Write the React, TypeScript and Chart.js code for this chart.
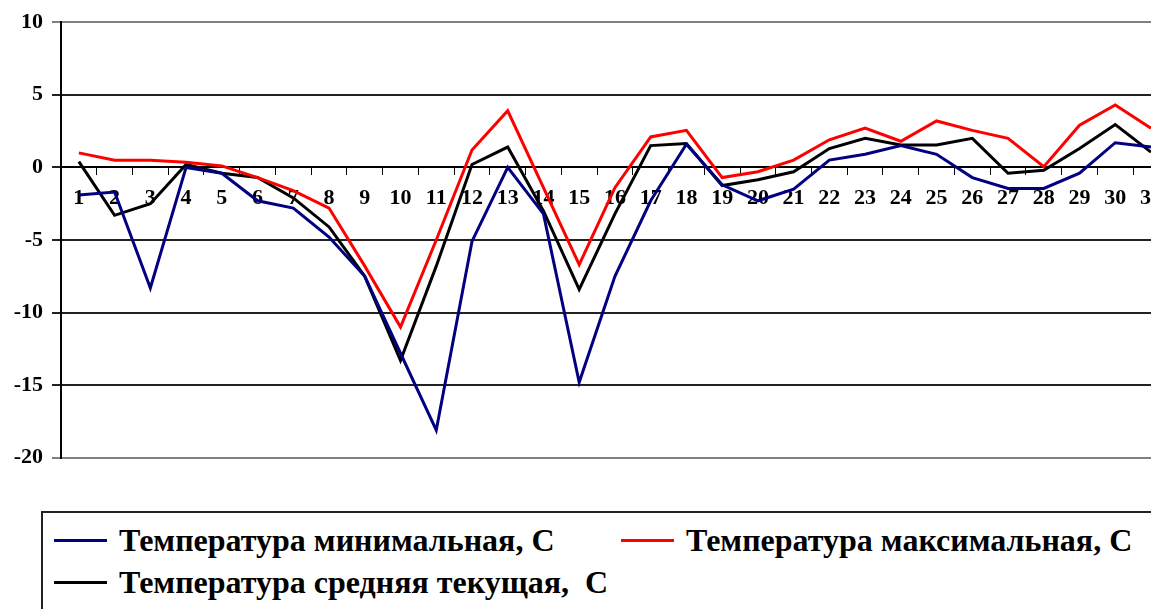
import React, { useEffect, useRef } from "react";
import { Chart, registerables } from "chart.js";

Chart.register(...registerables);

const days: string[] = Array.from({ length: 31 }, (_, i) => String(i + 1));

const tempMin: number[] = [
  -1.9, -1.7, -8.3, 0.0, -0.4, -2.3, -2.8, -4.8, -7.5, -12.8,
  -18.1, -5.1, 0.0, -3.2, -14.8, -7.5, -2.3, 1.6, -1.2, -2.3,
  -1.5, 0.5, 0.9, 1.5, 0.9, -0.7, -1.45, -1.45, -0.4, 1.7, 1.4,
];

const tempMax: number[] = [
  1.0, 0.5, 0.5, 0.35, 0.1, -0.7, -1.6, -2.8, -6.8, -11.0,
  -5.0, 1.2, 3.9, -1.4, -6.7, -1.4, 2.1, 2.55, -0.7, -0.3,
  0.5, 1.9, 2.7, 1.8, 3.2, 2.55, 2.0, 0.05, 2.9, 4.3, 2.7,
];

const tempAvg: number[] = [
  0.4, -3.3, -2.5, 0.2, -0.4, -0.7, -2.1, -4.1, -7.5, -13.3,
  -6.8, 0.2, 1.4, -3.0, -8.4, -3.2, 1.5, 1.65, -1.25, -0.85,
  -0.3, 1.3, 2.0, 1.55, 1.55, 2.0, -0.4, -0.2, 1.3, 2.95, 1.05,
];

const seriesLabels: string[] = [
  "Температура минимальная, С",
  "Температура максимальная, С",
  "Температура средняя текущая,  С",
];
const seriesColors: string[] = ["#000080", "#ff0000", "#000000"];

const yMin = -20;
const yMax = 10;
const yStep = 5;

const FONT = "'Liberation Serif', 'Times New Roman', serif";

export default function App() {
  const canvasRef = useRef<HTMLCanvasElement | null>(null);

  useEffect(() => {
    if (!canvasRef.current) return;
    const chart = new Chart(canvasRef.current, {
      type: "line",
      data: {
        labels: days,
        datasets: [tempMin, tempMax, tempAvg].map((d, i) => ({
          label: seriesLabels[i],
          data: d,
          borderColor: seriesColors[i],
          backgroundColor: seriesColors[i],
          borderWidth: 3,
          pointRadius: 0,
          tension: 0,
          fill: false,
        })),
      },
      options: {
        responsive: false,
        animation: false,
        layout: { padding: { top: 18, bottom: 20, left: 0, right: 0 } },
        plugins: {
          legend: { display: false },
          tooltip: { enabled: false },
        },
        scales: {
          x: {
            position: { y: 0 } as any,
            offset: true,
            grid: {
              offset: true,
              drawOnChartArea: false,
              drawTicks: true,
              tickLength: 7,
              color: "#000",
              lineWidth: 1,
            },
            border: { display: true, color: "#000", width: 2 },
            ticks: {
              color: "#000",
              padding: 11,
              autoSkip: false,
              maxRotation: 0,
              font: { family: FONT, size: 22, weight: "bold" },
            },
          },
          y: {
            min: yMin,
            max: yMax,
            afterFit: (scale: any) => {
              scale.width = 61;
            },
            ticks: {
              stepSize: yStep,
              color: "#000",
              padding: 9,
              font: { family: FONT, size: 22, weight: "bold" },
            },
            grid: {
              tickLength: 9,
              color: (ctx: any) =>
                ctx.tick && (ctx.tick.value === yMax || ctx.tick.value === yMin)
                  ? "#808080"
                  : "#222",
              lineWidth: 2,
            },
            border: { display: true, color: "#000", width: 2 },
          },
        },
      },
    });
    return () => chart.destroy();
  }, []);

  const legendPos = [
    { left: 11, top: 6 },
    { left: 578, top: 6 },
    { left: 11, top: 48 },
  ];

  return (
    <div
      style={{
        position: "absolute",
        left: 0,
        top: 0,
        width: 1151,
        height: 609,
        overflow: "hidden",
        background: "#fff",
      }}
    >
      <canvas
        ref={canvasRef}
        width={1173}
        height={480}
        style={{ position: "absolute", left: 0, top: 0, width: 1173, height: 480 }}
      />
      <div
        style={{
          position: "absolute",
          left: 41,
          top: 511,
          width: 1200,
          height: 140,
          border: "2px solid #222",
          boxSizing: "border-box",
        }}
      >
        {seriesLabels.map((lab, i) => (
          <div
            key={i}
            style={{
              position: "absolute",
              left: legendPos[i].left,
              top: legendPos[i].top,
              height: 42,
              display: "flex",
              alignItems: "center",
              whiteSpace: "pre",
            }}
          >
            <span
              style={{
                display: "inline-block",
                width: 53,
                height: 3,
                background: seriesColors[i],
                marginRight: 12,
              }}
            />
            <span
              style={{
                fontFamily: FONT,
                fontWeight: "bold",
                fontSize: 32,
                color: "#000",
              }}
            >
              {lab}
            </span>
          </div>
        ))}
      </div>
    </div>
  );
}
